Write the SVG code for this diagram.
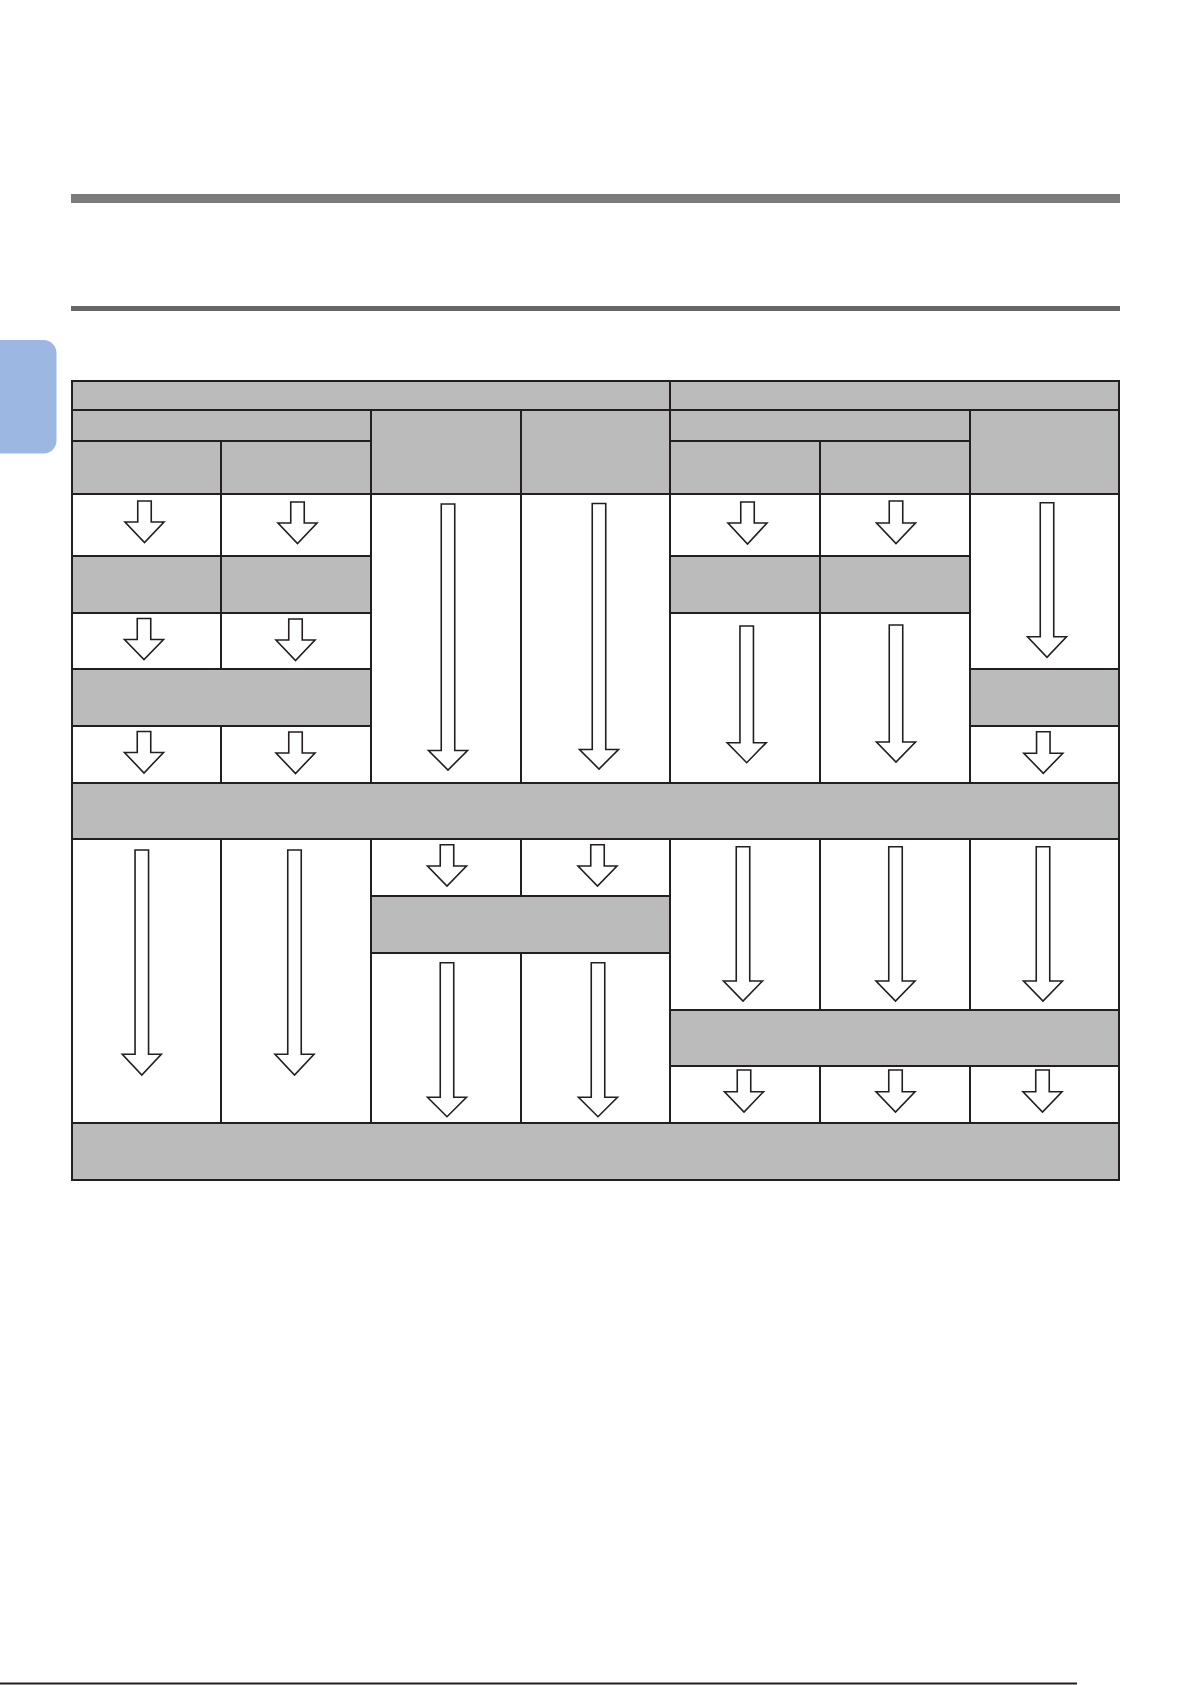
<svg xmlns="http://www.w3.org/2000/svg" width="1192" height="1685" viewBox="0 0 1192 1685">
<style>
.g{fill:#bbbbbb;stroke:#231f20;stroke-width:2}
.w{fill:#ffffff;stroke:#231f20;stroke-width:2}
.a{fill:#ffffff;stroke:#231f20;stroke-width:1.6;stroke-linejoin:miter}
</style>
<rect x="0" y="0" width="1192" height="1685" fill="#ffffff"/>
<g id="page">
<rect x="71" y="194" width="1049" height="9" fill="#7b7b7b"/>
<rect x="71" y="306" width="1049" height="5" fill="#666666"/>
<path d="M0 340 H43 A13 13 0 0 1 56.5 353 V440 A13 13 0 0 1 43 453.5 H0 Z" fill="#9bb7e2"/>
<line x1="0" y1="1683.5" x2="1077" y2="1683.5" stroke="#231f20" stroke-width="2"/>
</g>
<g id="header">
<g id="h1"><rect class="g" x="72" y="381" width="598" height="29"/></g>
<g id="h2"><rect class="g" x="670" y="381" width="449" height="29"/></g>
<g id="h3"><rect class="g" x="72" y="410" width="299" height="31"/></g>
<g id="h4"><rect class="g" x="371" y="410" width="150" height="84"/></g>
<g id="h5"><rect class="g" x="521" y="410" width="149" height="84"/></g>
<g id="h6"><rect class="g" x="670" y="410" width="300" height="31"/></g>
<g id="h7"><rect class="g" x="970" y="410" width="149" height="84"/></g>
<g id="h8"><rect class="g" x="72" y="441" width="149" height="53"/></g>
<g id="h9"><rect class="g" x="221" y="441" width="150" height="53"/></g>
<g id="h10"><rect class="g" x="670" y="441" width="150" height="53"/></g>
<g id="h11"><rect class="g" x="820" y="441" width="150" height="53"/></g>
</g>
<g id="body">
<g id="c1"><rect class="w" x="72" y="494" width="149" height="62"/></g>
<g id="c2"><rect class="w" x="221" y="494" width="150" height="62"/></g>
<g id="c3"><rect class="g" x="72" y="556" width="149" height="57"/></g>
<g id="c4"><rect class="g" x="221" y="556" width="150" height="57"/></g>
<g id="c5"><rect class="w" x="72" y="613" width="149" height="56"/></g>
<g id="c6"><rect class="w" x="221" y="613" width="150" height="56"/></g>
<g id="c7"><rect class="g" x="72" y="669" width="299" height="57"/></g>
<g id="c8"><rect class="w" x="72" y="726" width="149" height="57"/></g>
<g id="c9"><rect class="w" x="221" y="726" width="150" height="57"/></g>
<g id="c10"><rect class="w" x="371" y="494" width="150" height="289"/></g>
<g id="c11"><rect class="w" x="521" y="494" width="149" height="289"/></g>
<g id="c12"><rect class="w" x="670" y="494" width="150" height="62"/></g>
<g id="c13"><rect class="w" x="820" y="494" width="150" height="62"/></g>
<g id="c14"><rect class="g" x="670" y="556" width="150" height="57"/></g>
<g id="c15"><rect class="g" x="820" y="556" width="150" height="57"/></g>
<g id="c16"><rect class="w" x="670" y="613" width="150" height="170"/></g>
<g id="c17"><rect class="w" x="820" y="613" width="150" height="170"/></g>
<g id="c18"><rect class="w" x="970" y="494" width="149" height="175"/></g>
<g id="c19"><rect class="g" x="970" y="669" width="149" height="57"/></g>
<g id="c20"><rect class="w" x="970" y="726" width="149" height="57"/></g>
<g id="c21"><rect class="g" x="72" y="783" width="1047" height="56"/></g>
<g id="c22"><rect class="w" x="72" y="839" width="149" height="284"/></g>
<g id="c23"><rect class="w" x="221" y="839" width="150" height="284"/></g>
<g id="c24"><rect class="w" x="371" y="839" width="150" height="57"/></g>
<g id="c25"><rect class="w" x="521" y="839" width="149" height="57"/></g>
<g id="c26"><rect class="g" x="371" y="896" width="299" height="57"/></g>
<g id="c27"><rect class="w" x="371" y="953" width="150" height="170"/></g>
<g id="c28"><rect class="w" x="521" y="953" width="149" height="170"/></g>
<g id="c29"><rect class="w" x="670" y="839" width="150" height="171"/></g>
<g id="c30"><rect class="w" x="820" y="839" width="150" height="171"/></g>
<g id="c31"><rect class="w" x="970" y="839" width="149" height="171"/></g>
<g id="c32"><rect class="g" x="670" y="1010" width="449" height="56"/></g>
<g id="c33"><rect class="w" x="670" y="1066" width="150" height="57"/></g>
<g id="c34"><rect class="w" x="820" y="1066" width="150" height="57"/></g>
<g id="c35"><rect class="w" x="970" y="1066" width="149" height="57"/></g>
<g id="c36"><rect class="g" x="72" y="1123" width="1047" height="57"/></g>
</g>
<g id="connectors">
<path class="a" d="M137.75 501 H151.25 V522 H164 L144.5 542.5 L125 522 H137.75 Z"/>
<path class="a" d="M290.75 502 H304.25 V523 H317 L297.5 543.5 L278 523 H290.75 Z"/>
<path class="a" d="M740.75 502 H754.25 V523 H767 L747.5 544 L728 523 H740.75 Z"/>
<path class="a" d="M889.25 501 H902.75 V523 H915.5 L896 543.5 L876.5 523 H889.25 Z"/>
<path class="a" d="M137.25 618.5 H150.75 V639.5 H163.5 L144 659.5 L124.5 639.5 H137.25 Z"/>
<path class="a" d="M288.75 619 H302.25 V640 H315 L295.5 660.5 L276 640 H288.75 Z"/>
<path class="a" d="M137.25 731.5 H150.75 V752.5 H163.5 L144 773 L124.5 752.5 H137.25 Z"/>
<path class="a" d="M288.75 732 H302.25 V753 H315 L295.5 773.5 L276 753 H288.75 Z"/>
<path class="a" d="M1036.55 731.7 H1050.05 V753.3 H1062.8 L1043.3 773.3 L1023.8 753.3 H1036.55 Z"/>
<path class="a" d="M440.25 844.7 H453.75 V866 H466.5 L447 886 L427.5 866 H440.25 Z"/>
<path class="a" d="M590.75 844.7 H604.25 V866 H617 L597.5 886 L578 866 H590.75 Z"/>
<path class="a" d="M737.25 1070 H750.75 V1091.7 H763.5 L744 1112 L724.5 1091.7 H737.25 Z"/>
<path class="a" d="M888.75 1070 H902.25 V1091.7 H915 L895.5 1112 L876 1091.7 H888.75 Z"/>
<path class="a" d="M1035.75 1070 H1049.25 V1091.7 H1062 L1042.5 1112 L1023 1091.7 H1035.75 Z"/>
<path class="a" d="M441.25 504 H454.75 V750.5 H467.5 L448 770 L428.5 750.5 H441.25 Z"/>
<path class="a" d="M592.25 503.5 H605.75 V749.5 H618.5 L599 769 L579.5 749.5 H592.25 Z"/>
<path class="a" d="M1040.25 502.7 H1053.75 V636.7 H1066.5 L1047 657.3 L1027.5 636.7 H1040.25 Z"/>
<path class="a" d="M739.95 626 H753.45 V742.7 H766.2 L746.7 762.7 L727.2 742.7 H739.95 Z"/>
<path class="a" d="M889.25 625 H902.75 V742 H915.5 L896 762 L876.5 742 H889.25 Z"/>
<path class="a" d="M135.05 850 H148.55 V1054.3 H161.3 L141.8 1075 L122.3 1054.3 H135.05 Z"/>
<path class="a" d="M287.75 850 H301.25 V1054.3 H314 L294.5 1075 L275 1054.3 H287.75 Z"/>
<path class="a" d="M736.25 846.7 H749.75 V981 H762.5 L743 1001 L723.5 981 H736.25 Z"/>
<path class="a" d="M888.75 846.7 H902.25 V981 H915 L895.5 1001 L876 981 H888.75 Z"/>
<path class="a" d="M1036.25 846.7 H1049.75 V981 H1062.5 L1043 1001 L1023.5 981 H1036.25 Z"/>
<path class="a" d="M440.25 962.7 H453.75 V1097.3 H466.5 L447 1116.7 L427.5 1097.3 H440.25 Z"/>
<path class="a" d="M591.25 962.7 H604.75 V1097.3 H617.5 L598 1116.7 L578.5 1097.3 H591.25 Z"/>
</g>
</svg>
